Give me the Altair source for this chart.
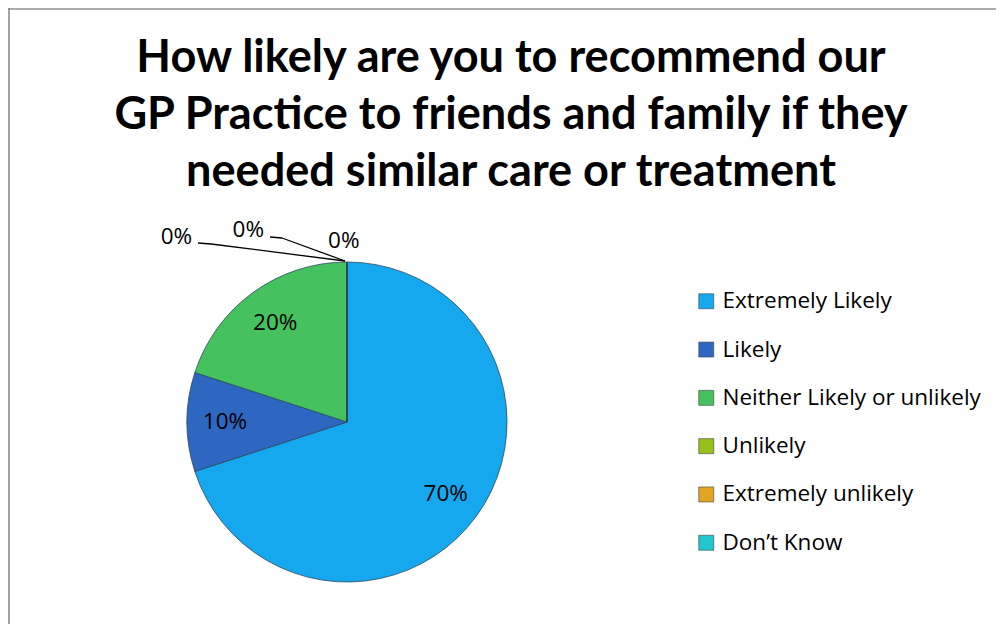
import math
import altair as alt
import pandas as pd

categories = ["Extremely Likely", "Likely", "Neither Likely or unlikely",
              "Unlikely", "Extremely unlikely", "Don’t Know"]
percent = [70, 10, 20, 0, 0, 0]
colors = ["#16a8ef", "#2e67c2", "#45c25e", "#95c11a", "#e2a423", "#22c6cf"]
title_lines = ["How likely are you to recommend our",
               "GP Practice to friends and family if they",
               "needed similar care or treatment"]

df = pd.DataFrame({"category": categories, "percent": percent, "order": list(range(len(categories)))})
df["label"] = df["percent"].astype(str) + "%"

W, H = 988, 616
CX, CY, R = 339, 414, 160
FONT = "Open Sans"
TFONT = "Lato"
FS = 22.5

color = alt.Color(
    "category:N",
    scale=alt.Scale(domain=categories, range=colors),
    sort=categories,
    legend=alt.Legend(
        title=None, orient="none", legendX=687, legendY=282,
        symbolType="square", symbolSize=225, symbolStrokeWidth=0.6,
        symbolStrokeColor="#444",
        labelFont=FONT, labelFontSize=FS, labelColor="#000",
        labelOffset=5, rowPadding=25.3, labelLimit=400,
    ),
)

base = alt.Chart(df).encode(
    theta=alt.Theta("percent:Q", stack=True),
    order=alt.Order("order:Q"),
)

pie = base.mark_arc(outerRadius=R, stroke="#2a4a60", strokeWidth=0.8).encode(
    color=color, x=alt.value(CX), y=alt.value(CY)
)

labels = base.transform_filter("datum.percent > 0").mark_text(
    radius=122, font=FONT, fontSize=FS, color="#000"
).encode(text="label:N", x=alt.value(CX), y=alt.value(CY))

# zero-value labels placed outside the pie (polar offset from the centre)
zero_spots = {"Unlikely": (252, 317.4), "Extremely unlikely": (216, 332.8), "Don’t Know": (181, 359.0)}
zero_layers = []
for cat, (rad, ang) in zero_spots.items():
    zero_layers.append(
        alt.Chart(df).transform_filter(alt.datum.category == cat).mark_text(
            radius=rad, theta=math.radians(ang), font=FONT, fontSize=FS,
            color="#000", baseline="middle"
        ).encode(text="label:N", x=alt.value(CX), y=alt.value(CY))
    )

# leader lines to the top of the pie
top_x, top_y = CX, CY - R
one = pd.DataFrame({"a": [0]})
segs = [
    (190, 235, 203, 236), (203, 236, top_x - 2, top_y - 1),
    (262, 229, 274, 230), (274, 230, top_x - 2, top_y - 1),
]
leaders = [
    alt.Chart(one).mark_rule(color="#000", strokeWidth=1.3).encode(
        x=alt.value(a), y=alt.value(b), x2=alt.value(c), y2=alt.value(d))
    for a, b, c, d in segs
]

# chart frame: only the left and top edges are inside the picture
border = [
    alt.Chart(one).mark_rule(color="#8c8c8c", strokeWidth=1.6).encode(
        x=alt.value(1), y=alt.value(0), x2=alt.value(1), y2=alt.value(H)),
    alt.Chart(one).mark_rule(color="#8c8c8c", strokeWidth=1.6).encode(
        x=alt.value(0), y=alt.value(1), x2=alt.value(W), y2=alt.value(1)),
]

title = alt.Chart(one).mark_text(
    font=TFONT, fontSize=45.1, fontWeight="bold", color="#000",
    align="center", baseline="alphabetic", lineHeight=57,
).encode(text=alt.value(title_lines), x=alt.value(503), y=alt.value(64))

chart = alt.layer(*border, pie, labels, *zero_layers, *leaders, title).properties(
    width=W, height=H, autosize=alt.AutoSizeParams(type="none"), padding=0
).configure_view(stroke=None)

chart.save("out.html", embed_options={"renderer": "svg", "actions": False})
